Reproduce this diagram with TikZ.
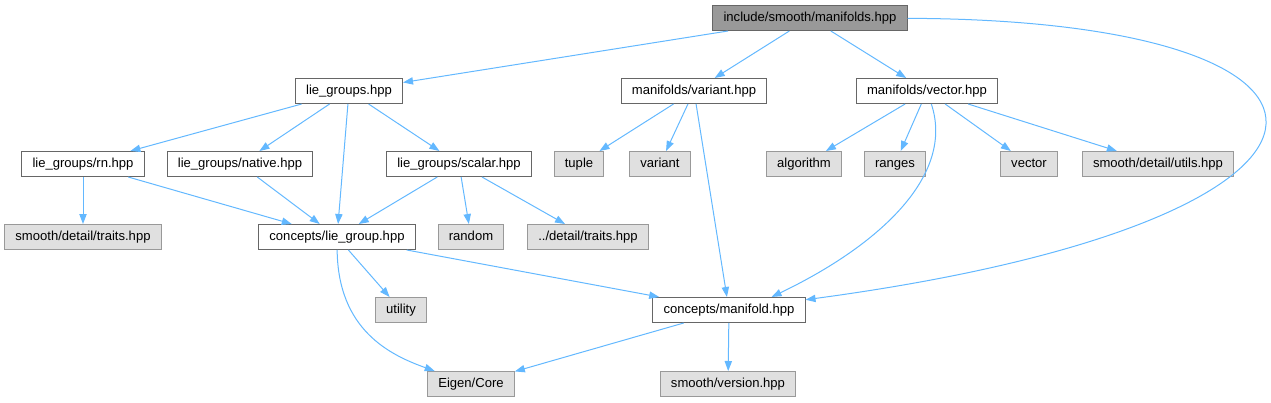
\documentclass[tikz,border=0pt]{standalone}
\usepackage{fontspec}
\setmainfont{Liberation Sans}
\usepackage{tikz}
\usetikzlibrary{arrows.meta, positioning}

\definecolor{edgeblue}{HTML}{63B8FF}
\definecolor{boxline}{HTML}{666666}
\definecolor{rootfill}{HTML}{999999}
\definecolor{sysfill}{HTML}{E0E0E0}
\definecolor{sysline}{HTML}{999999}

\begin{document}
\begin{tikzpicture}[
    x=0.75pt, y=-0.75pt,
    every node/.style={font=\fontsize{9.8}{11}\selectfont, inner xsep=8pt, inner ysep=0pt, text height=7.3pt, text depth=2.2pt, minimum height=18.75pt, line width=0.75pt},
    filebox/.style={rectangle, draw=boxline, fill=white},
    rootbox/.style={rectangle, draw=boxline, fill=rootfill},
    sysbox/.style={rectangle, draw=sysline, fill=sysfill},
    dep/.style={draw=edgeblue, line width=0.75pt, -{Triangle[length=7.5pt, width=5.5pt]}}
]

\useasboundingbox (0,0) rectangle (1271,403);

% Top level header
\node[rootbox] (root) at (810,18) {include/smooth/manifolds.hpp};

% Second row
\node[filebox] (liegroups) at (349,91)  {lie\_groups.hpp};
\node[filebox] (mvariant)  at (694,91)  {manifolds/variant.hpp};
\node[filebox] (mvector)   at (927,91)  {manifolds/vector.hpp};

% Third row
\node[filebox] (rn)         at (83,164)   {lie\_groups/rn.hpp};
\node[filebox] (native)     at (240,164)  {lie\_groups/native.hpp};
\node[filebox] (scalar)     at (459,164)  {lie\_groups/scalar.hpp};
\node[sysbox]  (tuple)      at (579,164)  {tuple};
\node[sysbox]  (stdvariant) at (660,164)  {variant};
\node[sysbox]  (algorithm)  at (804,164)  {algorithm};
\node[sysbox]  (ranges)     at (895,164)  {ranges};
\node[sysbox]  (stdvector)  at (1029,164) {vector};
\node[sysbox]  (utils)      at (1158,164) {smooth/detail/utils.hpp};

% Fourth row
\node[sysbox]  (traits)   at (83,237)  {smooth/detail/traits.hpp};
\node[filebox] (liegroup) at (337,237) {concepts/lie\_group.hpp};
\node[sysbox]  (random)   at (471,237) {random};
\node[sysbox]  (dtraits)  at (588,237) {../detail/traits.hpp};

% Fifth row
\node[sysbox]  (utility)  at (401,310) {utility};
\node[filebox] (manifold) at (729,310) {concepts/manifold.hpp};

% Bottom row
\node[sysbox] (eigen)   at (471,384) {Eigen/Core};
\node[sysbox] (version) at (728,384) {smooth/version.hpp};

% Edges - header
\draw[dep] (root) -- (liegroups);
\draw[dep] (root) -- (mvariant);
\draw[dep] (root) -- (mvector);
\draw[dep] (root) .. controls (1400,20) and (1400,220) .. (manifold);

% Edges - lie_groups.hpp
\draw[dep] (liegroups) -- (rn);
\draw[dep] (liegroups) -- (native);
\draw[dep] (liegroups) -- (liegroup);
\draw[dep] (liegroups) -- (scalar);

% Edges - manifolds/variant.hpp
\draw[dep] (mvariant) -- (tuple);
\draw[dep] (mvariant) -- (stdvariant);
\draw[dep] (mvariant) -- (manifold);

% Edges - manifolds/vector.hpp
\draw[dep] (mvector) -- (algorithm);
\draw[dep] (mvector) -- (ranges);
\draw[dep] (mvector) -- (stdvector);
\draw[dep] (mvector) -- (utils);
\draw[dep] (mvector) .. controls (955,175) and (880,245) .. (manifold.17);

% Edges - third row
\draw[dep] (rn) -- (traits);
\draw[dep] (rn) -- (liegroup);
\draw[dep] (native) -- (liegroup);
\draw[dep] (scalar) -- (liegroup);
\draw[dep] (scalar) -- (random);
\draw[dep] (scalar) -- (dtraits);

% Edges - concepts
\draw[dep] (liegroup) -- (utility);
\draw[dep] (liegroup) -- (manifold);
\draw[dep] (liegroup) .. controls (338,330) and (390,355) .. (eigen);
\draw[dep] (manifold) -- (eigen);
\draw[dep] (manifold) -- (version);

\end{tikzpicture}
\end{document}
